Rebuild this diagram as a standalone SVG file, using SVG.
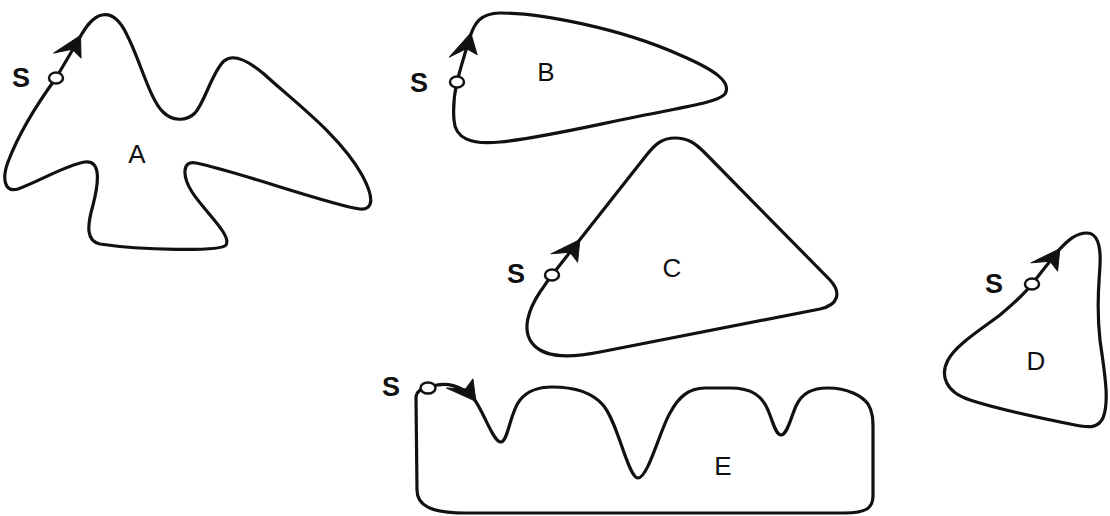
<svg xmlns="http://www.w3.org/2000/svg" width="1110" height="516" viewBox="0 0 1110 516">
<style>
.o{fill:none;stroke:#111;stroke-width:3.2;stroke-linejoin:round;stroke-linecap:round}
.c{fill:#fff;stroke:#111;stroke-width:2.5}
.l{font-family:"Liberation Sans",Arial,sans-serif;font-size:26px;fill:#111;text-anchor:middle}
.s{font-family:"Liberation Sans",Arial,sans-serif;font-size:27px;font-weight:bold;fill:#111;text-anchor:middle}
</style>
<defs>
<path id="ah" d="M3,0 L-26,-14 L-13,0 L-16,12 Z" fill="#111" stroke="#111" stroke-width="1" stroke-linejoin="round"/>
</defs>
<rect width="1110" height="516" fill="#fff"/>
<g id="shapeA">
<path class="o" d="M56,78 L79,39 C85,28 92,17 102,15 C112,13 120,20 127,35 C140,60 150,100 163,112 C172,121 186,122 195,113 C205,102 212,72 224,61 C232,54 245,58 264,74 C292,100 340,135 362,175 C374,197 374,210 360,209 C330,205 240,172 196,163 C182,160 182,176 192,192 C205,212 232,235 226,245 C220,252 140,250 100,244 C86,241 87,226 93,205 C99,182 101,160 85,162 C68,164 38,182 18,189 C4,193 2,178 8,162 C20,130 40,100 56,78 Z"/>
<use href="#ah" transform="translate(79,38) rotate(-59)"/>
<ellipse class="c" cx="56" cy="78" rx="7" ry="5.5"/>
<text class="s" x="21" y="87">S</text>
<text class="l" x="137" y="163">A</text>
</g>
<g id="shapeB">
<path class="o" d="M457,82 C461,66 466,50 470,37 C474,24 480,13 500,13 C540,13 620,28 680,55 C715,70 732,82 725,94 C718,102 690,106 640,116 C590,126 540,138 500,142 C470,145 455,138 454,120 C453,108 454,95 457,82 Z"/>
<use href="#ah" transform="translate(470,36) rotate(-74)"/>
<ellipse class="c" cx="457" cy="82" rx="7" ry="5.5"/>
<text class="s" x="419" y="92">S</text>
<text class="l" x="546" y="81">B</text>
</g>
<g id="shapeC">
<path class="o" d="M552,275 L578,242 L645,157 C655,144 662,138 675,138 C688,138 695,143 705,153 L830,280 C842,293 838,305 820,309 L600,352 C575,357 545,360 532,343 C522,330 528,310 540,292 C545,285 548,280 552,275 Z"/>
<use href="#ah" transform="translate(578,242) rotate(-52)"/>
<ellipse class="c" cx="552" cy="275" rx="7" ry="5.5"/>
<text class="s" x="516" y="283">S</text>
<text class="l" x="672" y="277">C</text>
</g>
<g id="shapeD">
<path class="o" d="M1032,284 L1058,251 C1068,240 1076,233 1087,233 C1097,233 1101,245 1100,265 C1099,285 1096,305 1100,340 C1104,370 1110,400 1103,418 C1098,428 1090,428 1075,425 C1040,418 1000,410 970,400 C945,392 940,375 948,360 C956,345 980,330 1000,315 C1012,305 1025,293 1032,284 Z"/>
<use href="#ah" transform="translate(1058,251) rotate(-52)"/>
<ellipse class="c" cx="1032" cy="284" rx="7" ry="5.5"/>
<text class="s" x="994" y="293">S</text>
<text class="l" x="1036" y="370">D</text>
</g>
<g id="shapeE">
<path class="o" d="M428,388 C445,380 463,386 474,399 C484,412 493,442 501,442 C508,442 510,412 520,400 C528,390 540,387 552,387 C570,387 590,390 603,405 C618,422 628,478 638,478 C648,478 660,430 670,413 C678,398 688,388 705,388 L730,388 C752,388 762,396 768,410 C774,425 776,435 781,435 C787,435 790,420 796,406 C802,393 812,388 828,388 C848,388 862,396 868,404 C873,412 873,420 873,430 L873,496 C873,508 866,513 845,513 L465,513 C430,513 417,505 417,490 L416,398 C416,392 421,388 428,388 Z"/>
<use href="#ah" transform="translate(474,399) rotate(50) scale(1,-1)"/>
<ellipse class="c" cx="428" cy="388" rx="7.5" ry="5.5"/>
<text class="s" x="391" y="396">S</text>
<text class="l" x="723" y="475">E</text>
</g>
</svg>
